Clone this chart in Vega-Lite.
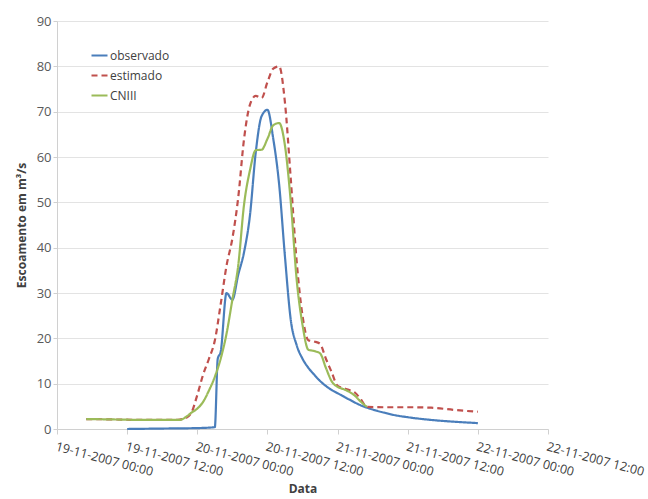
{
  "$schema": "https://vega.github.io/schema/vega-lite/v6.json",
  "width": 491,
  "height": 408,
  "autosize": {"type": "none"},
  "padding": {"left": 57, "top": 21, "right": 100, "bottom": 70},
  "background": "white",
  "config": {
    "font": "Open Sans",
    "view": {"stroke": null},
    "axis": {"labelColor": "#595959", "titleColor": "#404040", "gridColor": "#e3e3e3", "domainColor": "#d0d0d0", "tickColor": "#d0d0d0"}
  },
  "data": {"values": [
    {"t": "2007-11-19T12:00", "s": "observado", "v": 0},
    {"t": "2007-11-19T18:00", "s": "observado", "v": 0.1},
    {"t": "2007-11-20T00:00", "s": "observado", "v": 0.2},
    {"t": "2007-11-20T03:00", "s": "observado", "v": 0.4},
    {"t": "2007-11-20T03:30", "s": "observado", "v": 15.5},
    {"t": "2007-11-20T04:00", "s": "observado", "v": 17},
    {"t": "2007-11-20T05:00", "s": "observado", "v": 30},
    {"t": "2007-11-20T06:00", "s": "observado", "v": 28.5},
    {"t": "2007-11-20T07:00", "s": "observado", "v": 34},
    {"t": "2007-11-20T08:00", "s": "observado", "v": 39},
    {"t": "2007-11-20T09:00", "s": "observado", "v": 47},
    {"t": "2007-11-20T10:00", "s": "observado", "v": 61},
    {"t": "2007-11-20T11:00", "s": "observado", "v": 69},
    {"t": "2007-11-20T12:00", "s": "observado", "v": 70.4},
    {"t": "2007-11-20T13:00", "s": "observado", "v": 64},
    {"t": "2007-11-20T14:00", "s": "observado", "v": 54},
    {"t": "2007-11-20T15:00", "s": "observado", "v": 38},
    {"t": "2007-11-20T16:00", "s": "observado", "v": 24},
    {"t": "2007-11-20T17:00", "s": "observado", "v": 18.5},
    {"t": "2007-11-20T18:00", "s": "observado", "v": 15.5},
    {"t": "2007-11-20T19:00", "s": "observado", "v": 13.5},
    {"t": "2007-11-20T20:00", "s": "observado", "v": 12},
    {"t": "2007-11-20T21:00", "s": "observado", "v": 10.6},
    {"t": "2007-11-20T22:00", "s": "observado", "v": 9.5},
    {"t": "2007-11-20T23:00", "s": "observado", "v": 8.6},
    {"t": "2007-11-21T00:00", "s": "observado", "v": 7.9},
    {"t": "2007-11-21T02:00", "s": "observado", "v": 6.5},
    {"t": "2007-11-21T04:00", "s": "observado", "v": 5.2},
    {"t": "2007-11-21T06:00", "s": "observado", "v": 4.3},
    {"t": "2007-11-21T08:00", "s": "observado", "v": 3.6},
    {"t": "2007-11-21T10:00", "s": "observado", "v": 3.0},
    {"t": "2007-11-21T12:00", "s": "observado", "v": 2.6},
    {"t": "2007-11-21T16:00", "s": "observado", "v": 2.0},
    {"t": "2007-11-21T20:00", "s": "observado", "v": 1.6},
    {"t": "2007-11-22T00:00", "s": "observado", "v": 1.3},
    {"t": "2007-11-19T05:00", "s": "estimado", "v": 2.2},
    {"t": "2007-11-19T10:00", "s": "estimado", "v": 2.1},
    {"t": "2007-11-19T15:00", "s": "estimado", "v": 2.0},
    {"t": "2007-11-19T20:00", "s": "estimado", "v": 2.0},
    {"t": "2007-11-19T21:00", "s": "estimado", "v": 2.1},
    {"t": "2007-11-19T22:00", "s": "estimado", "v": 2.4},
    {"t": "2007-11-19T23:00", "s": "estimado", "v": 3.6},
    {"t": "2007-11-20T00:00", "s": "estimado", "v": 7.5},
    {"t": "2007-11-20T01:00", "s": "estimado", "v": 12},
    {"t": "2007-11-20T02:00", "s": "estimado", "v": 15.5},
    {"t": "2007-11-20T03:00", "s": "estimado", "v": 19.5},
    {"t": "2007-11-20T04:00", "s": "estimado", "v": 27.5},
    {"t": "2007-11-20T05:00", "s": "estimado", "v": 36},
    {"t": "2007-11-20T06:00", "s": "estimado", "v": 42},
    {"t": "2007-11-20T07:00", "s": "estimado", "v": 51},
    {"t": "2007-11-20T08:00", "s": "estimado", "v": 64},
    {"t": "2007-11-20T09:00", "s": "estimado", "v": 71.5},
    {"t": "2007-11-20T10:00", "s": "estimado", "v": 73.5},
    {"t": "2007-11-20T11:00", "s": "estimado", "v": 73},
    {"t": "2007-11-20T12:00", "s": "estimado", "v": 76.5},
    {"t": "2007-11-20T13:00", "s": "estimado", "v": 79.5},
    {"t": "2007-11-20T14:00", "s": "estimado", "v": 80},
    {"t": "2007-11-20T15:00", "s": "estimado", "v": 72},
    {"t": "2007-11-20T16:00", "s": "estimado", "v": 55},
    {"t": "2007-11-20T17:00", "s": "estimado", "v": 37},
    {"t": "2007-11-20T18:00", "s": "estimado", "v": 25},
    {"t": "2007-11-20T19:00", "s": "estimado", "v": 19.6},
    {"t": "2007-11-20T20:00", "s": "estimado", "v": 19.3},
    {"t": "2007-11-20T21:00", "s": "estimado", "v": 18.8},
    {"t": "2007-11-20T22:00", "s": "estimado", "v": 15.5},
    {"t": "2007-11-20T23:00", "s": "estimado", "v": 12.5},
    {"t": "2007-11-21T00:00", "s": "estimado", "v": 9.5},
    {"t": "2007-11-21T01:00", "s": "estimado", "v": 9},
    {"t": "2007-11-21T02:00", "s": "estimado", "v": 8.6},
    {"t": "2007-11-21T03:00", "s": "estimado", "v": 8},
    {"t": "2007-11-21T04:00", "s": "estimado", "v": 6.5},
    {"t": "2007-11-21T05:00", "s": "estimado", "v": 4.9},
    {"t": "2007-11-21T08:00", "s": "estimado", "v": 4.8},
    {"t": "2007-11-21T12:00", "s": "estimado", "v": 4.8},
    {"t": "2007-11-21T16:00", "s": "estimado", "v": 4.7},
    {"t": "2007-11-21T20:00", "s": "estimado", "v": 4.2},
    {"t": "2007-11-22T00:00", "s": "estimado", "v": 3.8},
    {"t": "2007-11-19T05:00", "s": "CNIII", "v": 2.2},
    {"t": "2007-11-19T10:00", "s": "CNIII", "v": 2.1},
    {"t": "2007-11-19T15:00", "s": "CNIII", "v": 2.0},
    {"t": "2007-11-19T20:00", "s": "CNIII", "v": 2.0},
    {"t": "2007-11-19T21:00", "s": "CNIII", "v": 2.0},
    {"t": "2007-11-19T22:00", "s": "CNIII", "v": 2.6},
    {"t": "2007-11-19T23:00", "s": "CNIII", "v": 3.6},
    {"t": "2007-11-20T00:00", "s": "CNIII", "v": 4.5},
    {"t": "2007-11-20T01:00", "s": "CNIII", "v": 6},
    {"t": "2007-11-20T02:00", "s": "CNIII", "v": 8.5},
    {"t": "2007-11-20T03:00", "s": "CNIII", "v": 11.5},
    {"t": "2007-11-20T04:00", "s": "CNIII", "v": 15.5},
    {"t": "2007-11-20T05:00", "s": "CNIII", "v": 21},
    {"t": "2007-11-20T06:00", "s": "CNIII", "v": 28.5},
    {"t": "2007-11-20T07:00", "s": "CNIII", "v": 36},
    {"t": "2007-11-20T08:00", "s": "CNIII", "v": 49.5},
    {"t": "2007-11-20T09:00", "s": "CNIII", "v": 57},
    {"t": "2007-11-20T10:00", "s": "CNIII", "v": 61.5},
    {"t": "2007-11-20T11:00", "s": "CNIII", "v": 61.6},
    {"t": "2007-11-20T12:00", "s": "CNIII", "v": 64},
    {"t": "2007-11-20T13:00", "s": "CNIII", "v": 67},
    {"t": "2007-11-20T14:00", "s": "CNIII", "v": 67.5},
    {"t": "2007-11-20T15:00", "s": "CNIII", "v": 62.5},
    {"t": "2007-11-20T16:00", "s": "CNIII", "v": 50},
    {"t": "2007-11-20T17:00", "s": "CNIII", "v": 33},
    {"t": "2007-11-20T18:00", "s": "CNIII", "v": 23},
    {"t": "2007-11-20T19:00", "s": "CNIII", "v": 17.5},
    {"t": "2007-11-20T20:00", "s": "CNIII", "v": 17.2},
    {"t": "2007-11-20T21:00", "s": "CNIII", "v": 16.7},
    {"t": "2007-11-20T22:00", "s": "CNIII", "v": 13.5},
    {"t": "2007-11-20T23:00", "s": "CNIII", "v": 10.5},
    {"t": "2007-11-21T00:00", "s": "CNIII", "v": 9.3},
    {"t": "2007-11-21T01:00", "s": "CNIII", "v": 8.8},
    {"t": "2007-11-21T02:00", "s": "CNIII", "v": 8.2},
    {"t": "2007-11-21T03:00", "s": "CNIII", "v": 7.3},
    {"t": "2007-11-21T04:00", "s": "CNIII", "v": 6},
    {"t": "2007-11-21T05:00", "s": "CNIII", "v": 4.9}
  ]},
  "mark": {"type": "line", "interpolate": "monotone"},
  "encoding": {
    "x": {
      "field": "t", "type": "temporal", "title": "Data",
      "scale": {"domain": [{"year": 2007, "month": 11, "date": 19, "hours": 0}, {"year": 2007, "month": 11, "date": 22, "hours": 12}]},
      "axis": {
        "format": "%d-%m-%Y %H:%M",
        "values": [
          {"year": 2007, "month": 11, "date": 19, "hours": 0},
          {"year": 2007, "month": 11, "date": 19, "hours": 12},
          {"year": 2007, "month": 11, "date": 20, "hours": 0},
          {"year": 2007, "month": 11, "date": 20, "hours": 12},
          {"year": 2007, "month": 11, "date": 21, "hours": 0},
          {"year": 2007, "month": 11, "date": 21, "hours": 12},
          {"year": 2007, "month": 11, "date": 22, "hours": 0},
          {"year": 2007, "month": 11, "date": 22, "hours": 12}
        ],
        "labelAngle": 15, "labelAlign": "left", "labelBaseline": "top",
        "labelFontSize": 12.5, "labelColor": "#404040", "labelPadding": 6,
        "grid": false, "tickSize": 5, "titleFontSize": 12, "titleFontWeight": "bold", "titlePadding": 5, "labelOverlap": false
      }
    },
    "y": {
      "field": "v", "type": "quantitative", "title": "Escoamento em m³/s",
      "scale": {"domain": [0, 90]},
      "axis": {"values": [0, 10, 20, 30, 40, 50, 60, 70, 80, 90], "labelFontSize": 13, "titleFontSize": 12, "titleFontWeight": "bold", "titlePadding": 8, "tickSize": 4}
    },
    "color": {
      "field": "s", "type": "nominal", "title": null,
      "scale": {"domain": ["observado", "estimado", "CNIII"], "range": ["#4a7ebb", "#c0504d", "#9bbb59"]},
      "legend": {"orient": "none", "legendX": 33, "legendY": 25, "symbolType": "stroke", "symbolSize": 256, "labelFontSize": 12, "labelColor": "#404040", "rowPadding": 4, "labelOffset": 1, "symbolStrokeWidth": 2}
    },
    "strokeDash": {
      "field": "s", "type": "nominal", "title": null,
      "scale": {"domain": ["observado", "estimado", "CNIII"], "range": [[1, 0], [6, 4], [1, 0]]}
    },
    "strokeWidth": {
      "field": "s", "type": "nominal", "legend": null,
      "scale": {"domain": ["observado", "estimado", "CNIII"], "range": [2.2, 2.2, 1.4]}
    }
  }
}
